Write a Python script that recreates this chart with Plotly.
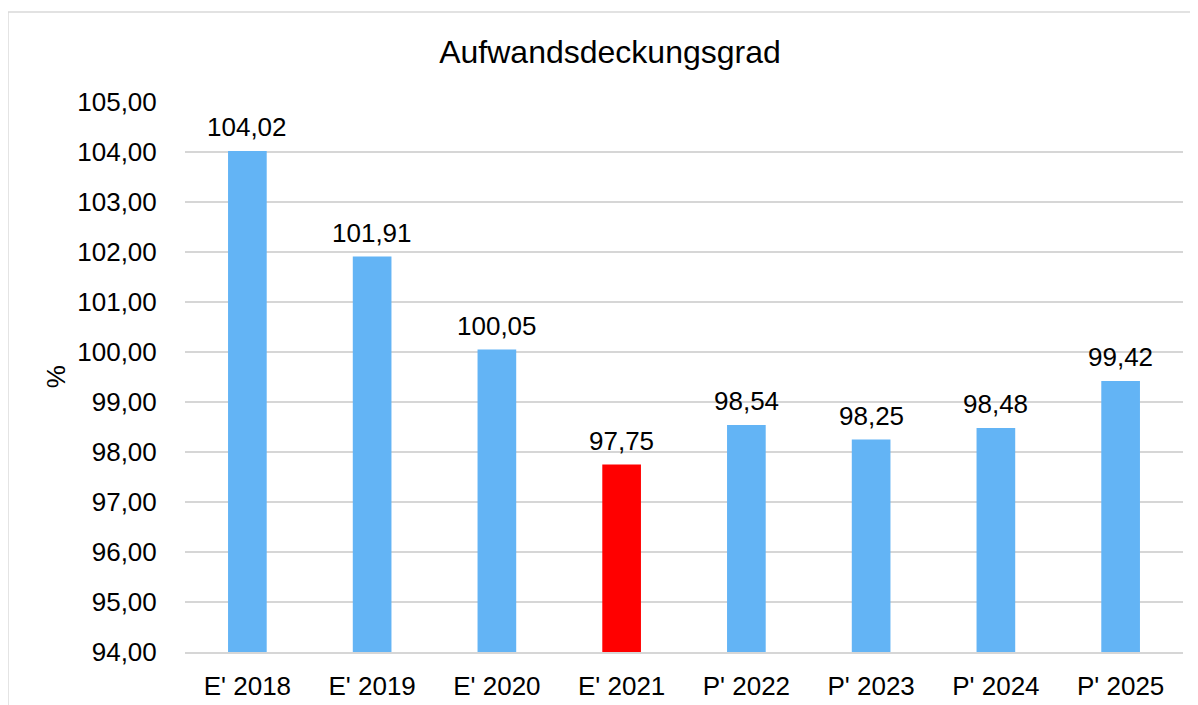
import plotly.graph_objects as go

categories = ["E' 2018", "E' 2019", "E' 2020", "E' 2021", "P' 2022", "P' 2023", "P' 2024", "P' 2025"]
values = [104.02, 101.91, 100.05, 97.75, 98.54, 98.25, 98.48, 99.42]
highlight = "E' 2021"

blue = "#63B4F5"
red = "#FF0000"
colors = [red if c == highlight else blue for c in categories]

fig = go.Figure()
fig.add_trace(go.Bar(
    x=categories,
    y=values,
    marker=dict(color=colors, line=dict(width=0)),
    width=0.31,
    cliponaxis=False,
))

# value labels above the bars (German decimal comma)
for c, v in zip(categories, values):
    fig.add_annotation(x=c, y=v, text="{:.2f}".format(v).replace(".", ","),
                       showarrow=False, yanchor="bottom", yshift=7,
                       font=dict(size=26, color="#000000"))

# page body adds 8px offset, margins compensate
fig.update_layout(
    width=1198,
    height=705,
    margin=dict(l=177, r=23, t=94, b=61, autoexpand=False),
    paper_bgcolor="white",
    plot_bgcolor="white",
    separators=",.",
    font=dict(family="Liberation Sans, Arial, sans-serif", size=26, color="#000000"),
    showlegend=False,
    title=dict(text="Aufwandsdeckungsgrad", x=0.5025, xref="container", xanchor="center",
               y=0.9376, yref="container", yanchor="middle", font=dict(size=32)),
)

fig.update_yaxes(
    range=[94, 105],
    dtick=1,
    tickformat=".2f",
    showgrid=True,
    gridcolor="#D6D6D6",
    gridwidth=1.5,
    zeroline=False,
    ticks="outside",
    ticklen=22,
    tickcolor="rgba(0,0,0,0)",
    tickfont=dict(size=26),
    automargin=False,
)
fig.update_xaxes(
    showline=True,
    linecolor="#D6D6D6",
    linewidth=1.5,
    ticks="outside",
    ticklen=10,
    tickcolor="rgba(0,0,0,0)",
    tickfont=dict(size=26),
    automargin=False,
)

# y axis title
fig.add_annotation(text="%", x=-0.146, y=0.5, xref="paper", yref="paper",
                   textangle=-90, showarrow=False, font=dict(size=26))

# chart border
fig.add_shape(type="rect", xref="paper", yref="paper",
              x0=-0.1774, x1=1.05, y0=-0.2, y1=1.1636,
              line=dict(color="#D9D9D9", width=1.5), fillcolor="rgba(0,0,0,0)", layer="below")

fig.write_html("out.html")
